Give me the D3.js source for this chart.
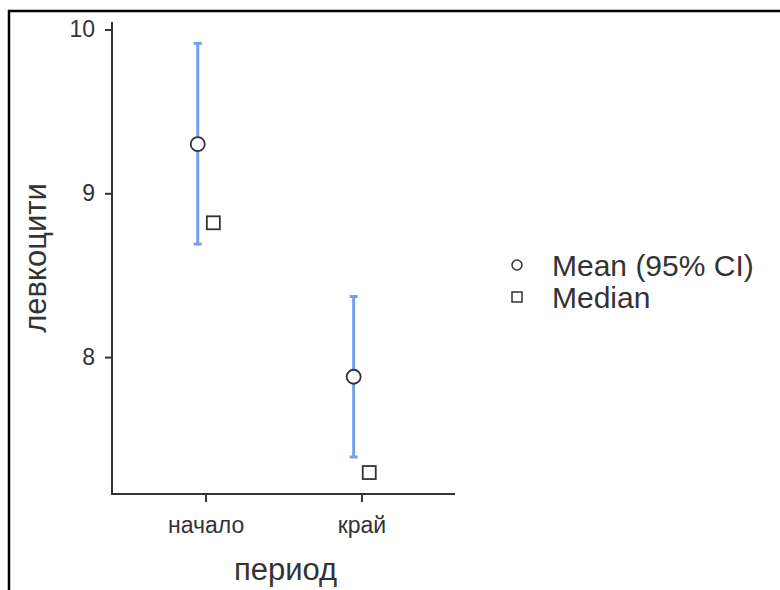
<!DOCTYPE html>
<html>
<head>
<meta charset="utf-8">
<script src="https://cdn.jsdelivr.net/npm/d3@7"></script>
<style>
  body { margin: 0; background: #fff; }
  text { font-family: "Liberation Sans", Arial, sans-serif; fill: #333; }
</style>
</head>
<body>
<div id="chart"></div>
<script>
// Descriptives plot: mean with 95% CI and median per period
const periods = ['начало', 'край'];
const means = [9.30, 7.88];
const ciLow = [8.69, 7.39];
const ciHigh = [9.915, 8.37];
const medians = [8.82, 7.295];
const yTicks = [8, 9, 10];

const W = 780, H = 590;
const plot = { left: 112, right: 455, top: 22, bottom: 494 };
const barColor = '#72A1EA';
const ink = '#333';

const svg = d3.select('#chart').append('svg')
    .attr('width', W)
    .attr('height', H);

// frame lines (top and left only visible)
svg.append('line').attr('x1', 8).attr('x2', W).attr('y1', 11).attr('y2', 11)
    .attr('stroke', '#000').attr('stroke-width', 2.5);
svg.append('line').attr('x1', 9).attr('x2', 9).attr('y1', 10).attr('y2', H)
    .attr('stroke', '#000').attr('stroke-width', 2.5);

// scales: 5% expansion on y, like ggplot
const allVals = ciLow.concat(ciHigh, medians, means);
const lo = d3.min(allVals), hi = d3.max(allVals);
const pad = (hi - lo) * 0.05;
const y = d3.scaleLinear().domain([lo - pad, hi + pad]).range([plot.bottom, plot.top]);
const x = d3.scalePoint().domain(periods).range([plot.left, plot.right]).padding(0.6);
const dodge = x.step() * 0.05;

// axes
const yAxis = svg.append('g')
    .attr('transform', `translate(${plot.left},0)`)
    .call(d3.axisLeft(y).tickValues(yTicks).tickFormat(d3.format('d'))
        .tickSize(7).tickPadding(10).tickSizeOuter(0));
const xAxis = svg.append('g')
    .attr('transform', `translate(0,${plot.bottom})`)
    .call(d3.axisBottom(x).tickSize(8).tickPadding(15).tickSizeOuter(0));

[yAxis, xAxis].forEach(a => {
    a.select('.domain').attr('stroke', ink).attr('stroke-width', 2);
    a.selectAll('.tick line').attr('stroke', ink).attr('stroke-width', 2);
    a.selectAll('.tick text').attr('fill', ink).style('font-size', '23px')
        .style('font-family', '"Liberation Sans", Arial, sans-serif');
});
// make domain lines meet exactly at corner
yAxis.select('.domain').attr('d', `M0,${plot.top}V${plot.bottom + 1}`);
xAxis.select('.domain').attr('d', `M${plot.left - 1},0H${plot.right}`);

// axis titles
svg.append('text')
    .attr('x', (plot.left + plot.right) / 2 + 2)
    .attr('y', 580)
    .attr('text-anchor', 'middle')
    .style('font-size', '31px')
    .text('период');
svg.append('text')
    .attr('transform', `translate(46,${(plot.top + plot.bottom) / 2}) rotate(-90)`)
    .attr('text-anchor', 'middle')
    .style('font-size', '31px')
    .text('левкоцити');

// error bars
const g = svg.append('g');
const capW = 4;
periods.forEach((p, i) => {
    const cx = x(p) - dodge;
    g.append('line').attr('x1', cx).attr('x2', cx)
        .attr('y1', y(ciLow[i])).attr('y2', y(ciHigh[i]))
        .attr('stroke', barColor).attr('stroke-width', 3);
    [ciLow[i], ciHigh[i]].forEach(v => {
        g.append('line').attr('x1', cx - capW).attr('x2', cx + capW)
            .attr('y1', y(v)).attr('y2', y(v))
            .attr('stroke', barColor).attr('stroke-width', 3);
    });
});

// medians (squares)
g.selectAll('.median').data(medians).enter().append('rect')
    .attr('class', 'median')
    .attr('x', (d, i) => x(periods[i]) + dodge - 6.5)
    .attr('y', d => y(d) - 6.5)
    .attr('width', 13).attr('height', 13)
    .attr('fill', '#fff').attr('stroke', ink).attr('stroke-width', 1.8);

// means (circles)
g.selectAll('.mean').data(means).enter().append('circle')
    .attr('class', 'mean')
    .attr('cx', (d, i) => x(periods[i]) - dodge)
    .attr('cy', d => y(d))
    .attr('r', 7)
    .attr('fill', '#fff').attr('stroke', ink).attr('stroke-width', 1.8);

// legend
const legend = svg.append('g').attr('transform', 'translate(517,0)');
legend.append('circle').attr('cx', 0).attr('cy', 265).attr('r', 5)
    .attr('fill', '#fff').attr('stroke', ink).attr('stroke-width', 1.5);
legend.append('rect').attr('x', -5).attr('y', 292).attr('width', 10).attr('height', 10)
    .attr('fill', '#fff').attr('stroke', ink).attr('stroke-width', 1.5);
legend.append('text').attr('x', 35).attr('y', 276).style('font-size', '30px').text('Mean (95% CI)');
legend.append('text').attr('x', 35).attr('y', 308).style('font-size', '30px').text('Median');
</script>
</body>
</html>
